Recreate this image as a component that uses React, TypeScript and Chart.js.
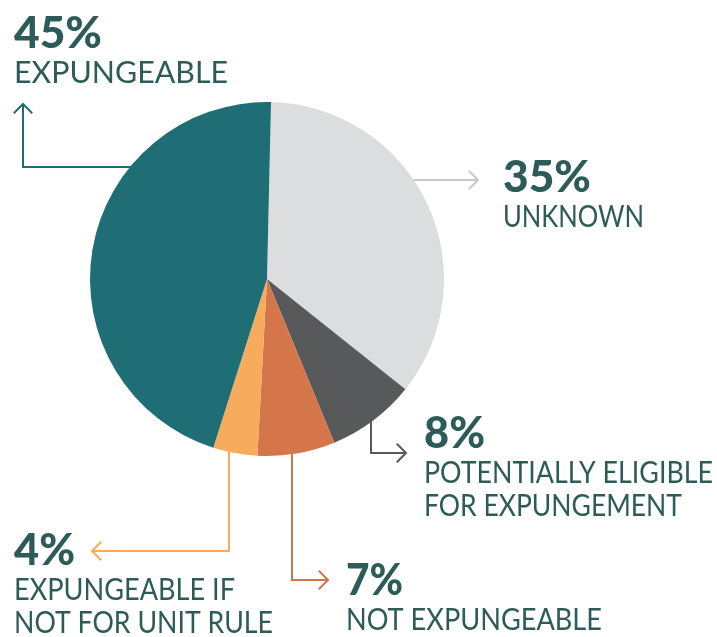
import React, { useEffect, useRef } from "react";
import { Chart, registerables } from "chart.js";

Chart.register(...registerables);

// ---- data ----
const categories = [
  "UNKNOWN",
  "POTENTIALLY ELIGIBLE FOR EXPUNGEMENT",
  "NOT EXPUNGEABLE",
  "EXPUNGEABLE IF NOT FOR UNIT RULE",
  "EXPUNGEABLE",
];
const shares = [35, 8, 7, 4, 45];
const labelLines = [
  ["UNKNOWN"],
  ["POTENTIALLY ELIGIBLE", "FOR EXPUNGEMENT"],
  ["NOT EXPUNGEABLE"],
  ["EXPUNGEABLE IF", "NOT FOR UNIT RULE"],
  ["EXPUNGEABLE"],
];
const sliceColors = ["#dcdddf", "#58595b", "#d5764a", "#f6ac5c", "#1f6e75"];
const arrowColors = ["#c8c9ca", "#58595b", "#d5764a", "#f6ac5c", "#1f6e75"];

// ---- callout layout (annotation placement) ----
type Pt = [number, number];
const calloutText: Pt[] = [
  [503, 192],
  [424, 448],
  [346, 595],
  [14, 565],
  [14, 48],
];
// rendered widths of the percentage and of each label line, to fit the typeface
const pctWidths = [88, 61, 57, 61, 88];
const lineWidths = [[141], [289, 258], [256], [221, 259], [214]];
const calloutPaths: Pt[][] = [
  [[400, 180], [478, 180]],
  [[371, 400], [371, 453], [406, 453]],
  [[292, 430], [292, 580], [328, 580]],
  [[229, 430], [229, 551], [92, 551]],
  [[160, 167], [23, 167], [23, 104]],
];

const TEXT_COLOR = "#2d5b58";
const FONT_FAMILY = "Lato, 'Open Sans', sans-serif";

function fitText(ctx: CanvasRenderingContext2D, text: string, x: number, y: number, w: number) {
  const m = ctx.measureText(text).width;
  const s = m > 0 ? w / m : 1;
  ctx.save();
  ctx.translate(x, y);
  ctx.scale(s, 1);
  ctx.fillText(text, 0, 0);
  ctx.restore();
}

const calloutPlugin = {
  id: "callouts",
  beforeDatasetsDraw(chart: any) {
    const ctx = chart.ctx as CanvasRenderingContext2D;
    ctx.save();
    ctx.lineWidth = 2;
    ctx.lineCap = "butt";
    ctx.lineJoin = "miter";
    calloutPaths.forEach((path, i) => {
      ctx.strokeStyle = arrowColors[i];
      ctx.beginPath();
      path.forEach(([x, y], k) => (k === 0 ? ctx.moveTo(x, y) : ctx.lineTo(x, y)));
      ctx.stroke();
      const [x1, y1] = path[path.length - 2];
      const [x2, y2] = path[path.length - 1];
      const ang = Math.atan2(y2 - y1, x2 - x1);
      const len = 13;
      ctx.beginPath();
      ctx.moveTo(x2 + len * Math.cos(ang + Math.PI * 0.75), y2 + len * Math.sin(ang + Math.PI * 0.75));
      ctx.lineTo(x2, y2);
      ctx.lineTo(x2 + len * Math.cos(ang - Math.PI * 0.75), y2 + len * Math.sin(ang - Math.PI * 0.75));
      ctx.stroke();
    });
    ctx.restore();
  },
  afterDraw(chart: any) {
    const ctx = chart.ctx as CanvasRenderingContext2D;
    ctx.save();
    ctx.fillStyle = TEXT_COLOR;
    ctx.textBaseline = "alphabetic";
    ctx.textAlign = "left";
    calloutText.forEach(([x, y], i) => {
      ctx.font = `900 44px ${FONT_FAMILY}`;
      fitText(ctx, `${shares[i]}%`, x, y, pctWidths[i]);
      ctx.font = `400 30px ${FONT_FAMILY}`;
      labelLines[i].forEach((line, k) => {
        fitText(ctx, line, x, y + 35 + k * 33, lineWidths[i][k]);
      });
    });
    ctx.restore();
  },
};

export default function App() {
  const ref = useRef<HTMLCanvasElement | null>(null);

  useEffect(() => {
    if (!ref.current) return;
    const chart = new Chart(ref.current, {
      type: "pie",
      data: {
        labels: categories,
        datasets: [
          {
            data: shares,
            backgroundColor: sliceColors,
            borderWidth: 0,
          },
        ],
      },
      options: {
        animation: false,
        responsive: false,
        rotation: 1.3,
        layout: { padding: { left: 90, right: 273, top: 102, bottom: 181 } },
        plugins: {
          legend: { display: false },
          tooltip: { enabled: false },
        },
      },
      plugins: [calloutPlugin],
    });
    return () => chart.destroy();
  }, []);

  return (
    <div style={{ position: "absolute", left: 0, top: 0, width: 717, height: 637, background: "#fff" }}>
      <canvas ref={ref} width={717} height={637} style={{ width: 717, height: 637 }} />
    </div>
  );
}
